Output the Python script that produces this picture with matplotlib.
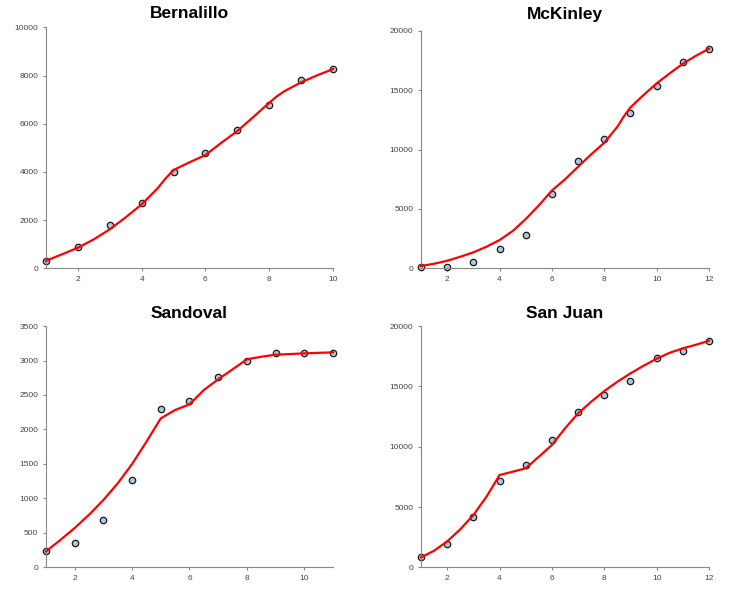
import matplotlib
matplotlib.use("Agg")
import matplotlib.pyplot as plt

bern_x = [1, 2, 3, 4, 5, 6, 7, 8, 9, 10]
bern_y = [315, 884, 1797, 2722, 3996, 4797, 5726, 6763, 7801, 8257]
mck_x = [1, 2, 3, 4, 5, 6, 7, 8, 9, 10, 11, 12]
mck_y = [135, 150, 505, 1650, 2803, 6254, 9032, 10884, 13047, 15370, 17340, 18485]
sand_x = [1, 2, 3, 4, 5, 6, 7, 8, 9, 10, 11]
sand_y = [232, 348, 690, 1266, 2296, 2412, 2760, 2988, 3104, 3104, 3104]
sj_x = [1, 2, 3, 4, 5, 6, 7, 8, 9, 10, 11, 12]
sj_y = [829, 1956, 4144, 7128, 8504, 10576, 12872, 14256, 15417, 17372, 17928, 18732]

# Curvas ajustadas (rojo)
bern_fx = [1, 1.5, 2, 2.5, 3, 3.5, 4, 4.5, 4.75, 5, 5.5, 6, 6.5, 7, 7.5, 8, 8.25, 8.5, 9, 9.5, 10]
bern_fy = [315, 581, 855, 1203, 1618, 2116, 2656, 3320, 3730, 4079, 4400, 4701, 5212, 5697, 6278,
           6871, 7149, 7369, 7718, 8008, 8270]
mck_fx = [1, 1.5, 2, 2.5, 3, 3.5, 4, 4.5, 5, 5.5, 6, 6.5, 7, 7.5, 8, 8.5, 8.75, 9, 9.5, 10,
          10.5, 11, 11.5, 12]
mck_fy = [200, 387, 640, 976, 1347, 1818, 2382, 3140, 4150, 5300, 6550, 7490, 8552, 9596, 10572,
          11919, 12800, 13552, 14587, 15572, 16414, 17222, 17896, 18485]
sand_fx = [1, 1.5, 2, 2.5, 3, 3.5, 4, 4.5, 5, 5.5, 6, 6.5, 7, 7.5, 8, 8.5, 9, 10, 11]
sand_fy = [232, 396, 570, 763, 976, 1218, 1498, 1822, 2161, 2282, 2364, 2572, 2727, 2872, 3017,
           3055, 3084, 3104, 3119]
sj_fx = [1, 1.5, 2, 2.5, 3, 3.5, 4, 4.5, 5, 5.5, 6, 6.5, 7, 7.5, 8, 8.5, 9, 9.5, 10, 10.5, 11,
         11.5, 12]
sj_fy = [829, 1376, 2155, 3150, 4335, 5852, 7650, 7924, 8205, 9167, 10137, 11521, 12764, 13726,
         14612, 15383, 16079, 16709, 17290, 17787, 18151, 18450, 18782]

paneles = [
    ("Bernalillo", bern_x, bern_y, bern_fx, bern_fy, 10000, 2000, 10, [0.0622, 0.549, 0.3884, 0.405], 6.7),
    ("McKinley", mck_x, mck_y, mck_fx, mck_fy, 20000, 5000, 12, [0.5697, 0.549, 0.3897, 0.3993], 8.4),
    ("Sandoval", sand_x, sand_y, sand_fx, sand_fy, 3500, 500, 11, [0.0622, 0.0465, 0.3884, 0.4055], 6.0),
    ("San Juan", sj_x, sj_y, sj_fx, sj_fy, 20000, 5000, 12, [0.5697, 0.0465, 0.3897, 0.4055], 6.0),
]

fig = plt.figure(figsize=(7.39, 5.95), dpi=100)

for nombre, x, y, fx, fy, ymax, ypaso, xmax, pos, pad in paneles:
    ax = fig.add_axes(pos)
    ax.plot(x, y, 'o', ms=4.6, mfc='#a9c8e2', mec='#1a1a1a', mew=0.9, zorder=2, clip_on=False)
    ax.plot(fx, fy, '-', color='red', lw=1.6, zorder=3, clip_on=False)
    ax.set_xlim(1, xmax)
    ax.set_ylim(0, ymax)
    ax.set_xticks(range(2, xmax + 1, 2))
    ax.set_yticks(range(0, ymax + 1, ypaso))
    for s in ['top', 'right']:
        ax.spines[s].set_visible(False)
    for s in ['left', 'bottom']:
        ax.spines[s].set_color('#888888')
        ax.spines[s].set_linewidth(0.8)
    ax.tick_params(direction='out', length=2.5, width=0.8, color='#888888',
                   labelsize=6, labelcolor='#444444', pad=3)
    for lab in ax.get_xticklabels() + ax.get_yticklabels():
        lab.set_family('Liberation Sans')
    ax.set_title(nombre, fontsize=12.5, fontweight='bold', family='Liberation Sans', pad=pad)

plt.savefig('out.png', dpi=100)
